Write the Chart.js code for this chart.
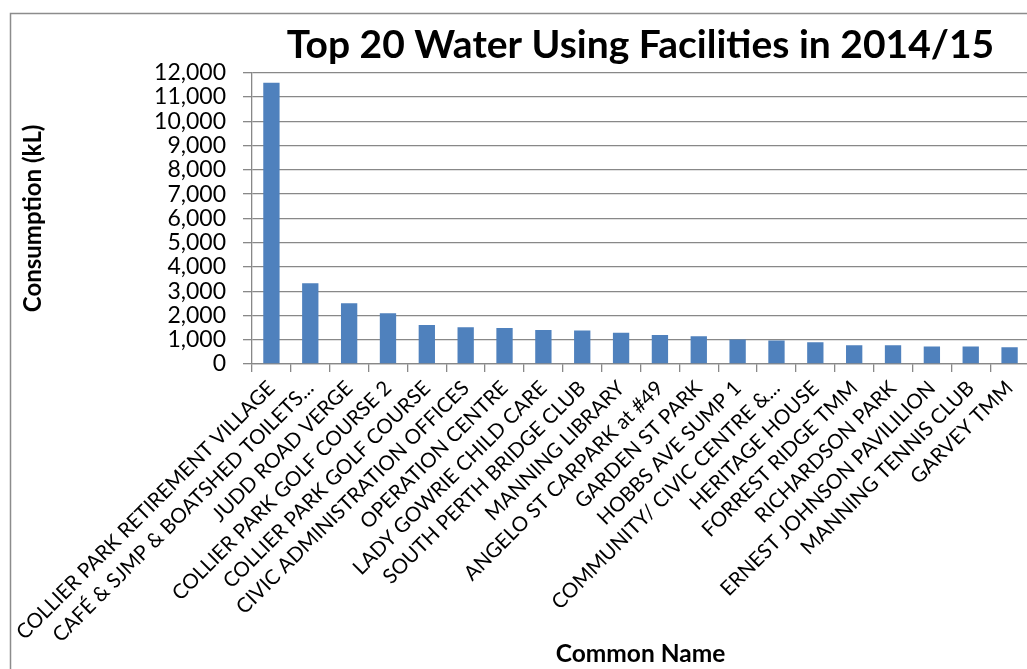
<!DOCTYPE html>
<html>
<head>
<meta charset="utf-8">
<script src="https://cdn.jsdelivr.net/npm/chart.js@4/dist/chart.umd.min.js"></script>
<style>
    html, body { margin: 0; padding: 0; background: #fff; overflow: hidden; }
    canvas { display: block; }
</style>
</head>
<body>
<canvas id="grafico" width="1040" height="669"></canvas>
<script>
/* ============================
   DADOS
============================ */

const categorias = [
    "COLLIER PARK RETIREMENT VILLAGE",
    "CAFÉ & SJMP & BOATSHED TOILETS...",
    "JUDD ROAD VERGE",
    "COLLIER PARK GOLF COURSE 2",
    "COLLIER PARK GOLF COURSE",
    "CIVIC ADMINISTRATION OFFICES",
    "OPERATION CENTRE",
    "LADY GOWRIE CHILD CARE",
    "SOUTH PERTH BRIDGE CLUB",
    "MANNING LIBRARY",
    "ANGELO ST CARPARK at #49",
    "GARDEN ST PARK",
    "HOBBS AVE SUMP 1",
    "COMMUNITY/ CIVIC CENTRE &...",
    "HERITAGE HOUSE",
    "FORREST RIDGE TMM",
    "RICHARDSON PARK",
    "ERNEST JOHNSON PAVILILION",
    "MANNING TENNIS CLUB",
    "GARVEY TMM"
];

const consumo = [11590, 3330, 2505, 2090, 1610, 1515, 1486, 1404, 1376, 1290,
                 1200, 1145, 1010, 965, 900, 775, 775, 720, 720, 690];

const eixoY = { min: 0, max: 12000, passo: 1000 };

/* ============================
   MOLDURA (borda do gráfico)
============================ */

const moldura = {
    id: "moldura",
    afterDraw(chart) {
        const ctx = chart.ctx;
        ctx.save();
        ctx.strokeStyle = "#8c8c8c";
        ctx.lineWidth = 1.5;
        ctx.beginPath();
        ctx.moveTo(10.5, chart.height);
        ctx.lineTo(10.5, 13.5);
        ctx.lineTo(chart.width, 13.5);
        ctx.stroke();
        ctx.restore();
    }
};

/* ============================
   GRÁFICO
============================ */

document.addEventListener("DOMContentLoaded", () => {
    const ctx = document.getElementById("grafico").getContext("2d");
    const cinza = "#888888";

    new Chart(ctx, {
        type: "bar",
        data: {
            labels: categorias,
            datasets: [{
                label: "Consumption (kL)",
                data: consumo,
                backgroundColor: "#4f81bd",
                borderWidth: 0,
                categoryPercentage: 1,
                barPercentage: 0.42
            }]
        },
        options: {
            responsive: false,
            devicePixelRatio: 1,
            animation: false,
            layout: { padding: { left: 0, right: 11, top: 0, bottom: 0 } },
            plugins: {
                legend: { display: false },
                tooltip: { enabled: false },
                title: {
                    display: true,
                    fullSize: false,
                    text: "Top 20 Water Using Facilities in 2014/15",
                    color: "#000",
                    font: { family: "Lato", size: 39, weight: "bold", lineHeight: 1.2 },
                    padding: { top: 22, bottom: 4 }
                }
            },
            scales: {
                x: {
                    afterFit(scale) { scale.height = 305; },
                    grid: {
                        drawOnChartArea: false,
                        drawTicks: true,
                        tickLength: 8,
                        color: cinza,
                        lineWidth: 1.3
                    },
                    border: { color: cinza, width: 1.3 },
                    ticks: {
                        autoSkip: false,
                        minRotation: 45,
                        maxRotation: 45,
                        padding: 4,
                        color: "#000",
                        font: { family: "Lato", size: 20.5 }
                    },
                    title: {
                        display: true,
                        text: "Common Name",
                        color: "#000",
                        font: { family: "Lato", size: 24.5, weight: "bold", lineHeight: 1.2 },
                        padding: { top: 0, bottom: 0 }
                    }
                },
                y: {
                    min: eixoY.min,
                    max: eixoY.max,
                    afterFit(scale) { scale.width = 252; },
                    grid: {
                        color: cinza,
                        lineWidth: 1.3,
                        tickLength: 9
                    },
                    border: { color: cinza, width: 1.3 },
                    ticks: {
                        autoSkip: false,
                        stepSize: eixoY.passo,
                        padding: 17,
                        color: "#000",
                        font: { family: "Lato", size: 23 },
                        callback: (v) => v.toLocaleString("en-US")
                    },
                    title: {
                        display: true,
                        text: "Consumption (kL)",
                        color: "#000",
                        font: { family: "Lato", size: 24, weight: "bold", lineHeight: 1.2 },
                        padding: { top: 19, bottom: 0 }
                    }
                }
            }
        },
        plugins: [moldura]
    });
});
</script>
</body>
</html>
